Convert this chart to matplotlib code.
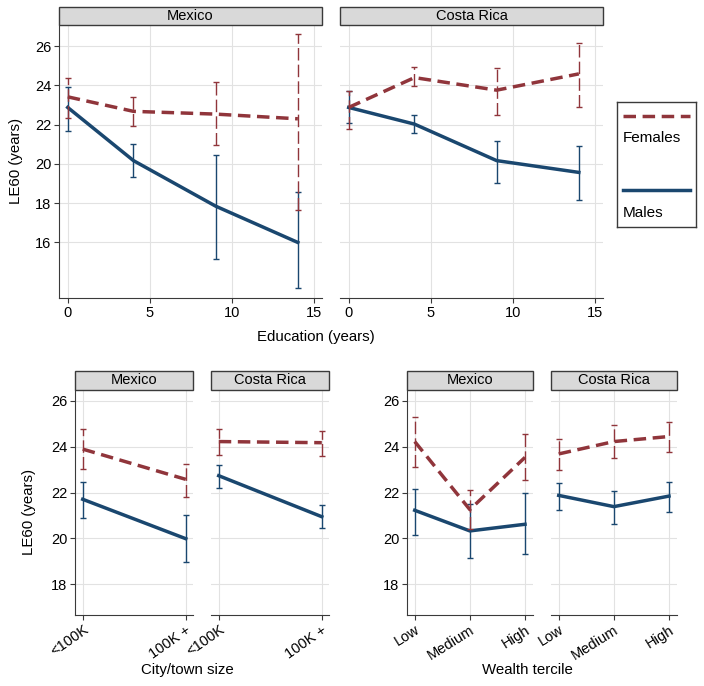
import numpy as np
import matplotlib
matplotlib.use('Agg')
import matplotlib.pyplot as plt
from matplotlib.patches import Rectangle

plt.rcParams['font.family'] = ['Liberation Sans', 'DejaVu Sans']

FEMALE = '#90353B'
MALE = '#1A476F'
GRID = '#E2E2E2'
SPINE = '#3A3A3A'
HEADER = '#D9D9D9'

# Education (years)
edu_years = [0, 4, 9, 14]
mx_edu_f = [23.42, 22.68, 22.54, 22.30]
mx_edu_f_lo = [22.34, 21.93, 20.97, 17.63]
mx_edu_f_hi = [24.40, 23.42, 24.17, 26.63]
mx_edu_m = [22.88, 20.17, 17.85, 16.00]
mx_edu_m_lo = [21.69, 19.32, 15.15, 13.66]
mx_edu_m_hi = [23.93, 21.02, 20.47, 18.56]
cr_edu_f = [22.88, 24.40, 23.76, 24.59]
cr_edu_f_lo = [21.78, 23.98, 22.50, 22.92]
cr_edu_f_hi = [23.74, 24.95, 24.91, 26.15]
cr_edu_m = [22.88, 22.03, 20.17, 19.57]
cr_edu_m_lo = [22.09, 21.60, 19.05, 18.15]
cr_edu_m_hi = [23.70, 22.50, 21.15, 20.93]

# City/town size
city_labels = ['<100K', '100K +']
mx_city_f = [23.90, 22.58]
mx_city_f_lo = [23.02, 21.80]
mx_city_f_hi = [24.76, 23.24]
mx_city_m = [21.71, 19.99]
mx_city_m_lo = [20.91, 18.99]
mx_city_m_hi = [22.48, 21.03]
cr_city_f = [24.23, 24.18]
cr_city_f_lo = [23.63, 23.60]
cr_city_f_hi = [24.79, 24.69]
cr_city_m = [22.74, 20.95]
cr_city_m_lo = [22.22, 20.46]
cr_city_m_hi = [23.22, 21.45]

# Wealth tercile
wealth_labels = ['Low', 'Medium', 'High']
mx_w_f = [24.23, 21.26, 23.54]
mx_w_f_lo = [23.13, 20.40, 22.54]
mx_w_f_hi = [25.31, 22.11, 24.57]
mx_w_m = [21.23, 20.33, 20.62]
mx_w_m_lo = [20.15, 19.14, 19.34]
mx_w_m_hi = [22.17, 21.51, 21.98]
cr_w_f = [23.69, 24.23, 24.45]
cr_w_f_lo = [23.00, 23.50, 23.78]
cr_w_f_hi = [24.34, 24.97, 25.07]
cr_w_m = [21.88, 21.39, 21.85]
cr_w_m_lo = [21.26, 20.64, 21.15]
cr_w_m_hi = [22.44, 22.08, 22.47]

W, H = 704, 686
fig = plt.figure(figsize=(W / 100, H / 100), dpi=100)


def add_ax(x0, x1, y0, y1):
    # pixel box -> figure fraction
    return fig.add_axes([x0 / W, 1 - y1 / H, (x1 - x0) / W, (y1 - y0) / H])


def draw_panel(ax, x, f, f_lo, f_hi, m, m_lo, m_hi, title, header_px, first):
    x = np.asarray(x, dtype=float)
    f, f_lo, f_hi = map(np.asarray, (f, f_lo, f_hi))
    m, m_lo, m_hi = map(np.asarray, (m, m_lo, m_hi))

    ax.errorbar(x, m, yerr=[m - m_lo, m_hi - m], fmt='none', ecolor=MALE,
                elinewidth=1.0, capsize=2.5, capthick=1.0, zorder=3)
    ax.plot(x, m, color=MALE, lw=2.5, zorder=4)
    eb = ax.errorbar(x, f, yerr=[f - f_lo, f_hi - f], fmt='none', ecolor=FEMALE,
                     elinewidth=1.0, capsize=2.5, capthick=1.0, zorder=5)
    eb[2][0].set_linestyle((0, (9, 3)))
    ax.plot(x, f, color=FEMALE, lw=2.5, linestyle=(0, (3.6, 1.9)), zorder=6)

    ax.grid(True, color=GRID, lw=0.8)
    ax.set_axisbelow(True)
    for s in ['top', 'right']:
        ax.spines[s].set_visible(False)
    ax.spines['bottom'].set_color(SPINE)
    ax.spines['left'].set_color(SPINE)
    ax.tick_params(direction='out', length=3.5, width=0.8, color=SPINE,
                   labelsize=10.5, pad=2)
    if not first:
        ax.spines['left'].set_visible(False)
        ax.tick_params(axis='y', left=False, labelleft=False)

    h = header_px / ax.get_position().height / H
    ax.add_patch(Rectangle((0, 1), 1, h, transform=ax.transAxes, clip_on=False,
                           facecolor=HEADER, edgecolor=SPINE, lw=1.0, zorder=10))
    ax.text(0.5, 1 + h / 2, title, transform=ax.transAxes, ha='center',
            va='center', fontsize=10.5, zorder=11)


# top row: education
ax1 = add_ax(59, 322, 25, 298)
ax2 = add_ax(340, 603, 25, 298)
draw_panel(ax1, edu_years, mx_edu_f, mx_edu_f_lo, mx_edu_f_hi,
           mx_edu_m, mx_edu_m_lo, mx_edu_m_hi, 'Mexico', 18, True)
draw_panel(ax2, edu_years, cr_edu_f, cr_edu_f_lo, cr_edu_f_hi,
           cr_edu_m, cr_edu_m_lo, cr_edu_m_hi, 'Costa Rica', 18, False)
for ax in (ax1, ax2):
    ax.set_xlim(-0.53, 15.47)
    ax.set_ylim(13.17, 27.08)
    ax.set_xticks([0, 5, 10, 15])
    ax.set_yticks([16, 18, 20, 22, 24, 26])

# bottom left: city size
ax3 = add_ax(75, 193, 390, 615)
ax4 = add_ax(211, 329, 390, 615)
draw_panel(ax3, [0, 1], mx_city_f, mx_city_f_lo, mx_city_f_hi,
           mx_city_m, mx_city_m_lo, mx_city_m_hi, 'Mexico', 19, True)
draw_panel(ax4, [0, 1], cr_city_f, cr_city_f_lo, cr_city_f_hi,
           cr_city_m, cr_city_m_lo, cr_city_m_hi, 'Costa Rica', 19, False)
for ax in (ax3, ax4):
    ax.set_xlim(-0.075, 1.07)
    ax.set_xticks([0, 1])
    ax.set_xticklabels(city_labels, rotation=35, ha='right', rotation_mode='anchor')

# bottom right: wealth
ax5 = add_ax(407, 533, 390, 615)
ax6 = add_ax(551, 677, 390, 615)
draw_panel(ax5, [0, 1, 2], mx_w_f, mx_w_f_lo, mx_w_f_hi,
           mx_w_m, mx_w_m_lo, mx_w_m_hi, 'Mexico', 19, True)
draw_panel(ax6, [0, 1, 2], cr_w_f, cr_w_f_lo, cr_w_f_hi,
           cr_w_m, cr_w_m_lo, cr_w_m_hi, 'Costa Rica', 19, False)
for ax in (ax5, ax6):
    ax.set_xlim(-0.14, 2.145)
    ax.set_xticks([0, 1, 2])
    ax.set_xticklabels(wealth_labels, rotation=32, ha='right', rotation_mode='anchor')

for ax in (ax3, ax4, ax5, ax6):
    ax.set_ylim(16.66, 26.48)
    ax.set_yticks([18, 20, 22, 24, 26])

# axis titles
fig.text(16 / W, 1 - 161 / H, 'LE60 (years)', rotation=90, ha='center', va='center', fontsize=10.8)
fig.text(29 / W, 1 - 512 / H, 'LE60 (years)', rotation=90, ha='center', va='center', fontsize=10.8)
fig.text(316 / W, 1 - 337 / H, 'Education (years)', ha='center', va='center', fontsize=10.8)
fig.text(187 / W, 1 - 670 / H, 'City/town size', ha='center', va='center', fontsize=10.8)
fig.text(527 / W, 1 - 670 / H, 'Wealth tercile', ha='center', va='center', fontsize=10.8)

# legend box
lax = add_ax(617, 696, 102, 227)
lax.set_xlim(0, 1)
lax.set_ylim(0, 1)
lax.set_xticks([])
lax.set_yticks([])
for s in lax.spines.values():
    s.set_color(SPINE)
    s.set_linewidth(1.0)
lax.plot([0.076, 0.924], [0.888, 0.888], color=FEMALE, lw=2.5, linestyle=(0, (3.6, 1.9)))
lax.text(0.076, 0.712, 'Females', ha='left', va='center', fontsize=11)
lax.plot([0.076, 0.924], [0.296, 0.296], color=MALE, lw=2.5)
lax.text(0.076, 0.112, 'Males', ha='left', va='center', fontsize=11)

plt.savefig('out.png', dpi=100)
print("saved out.png")
